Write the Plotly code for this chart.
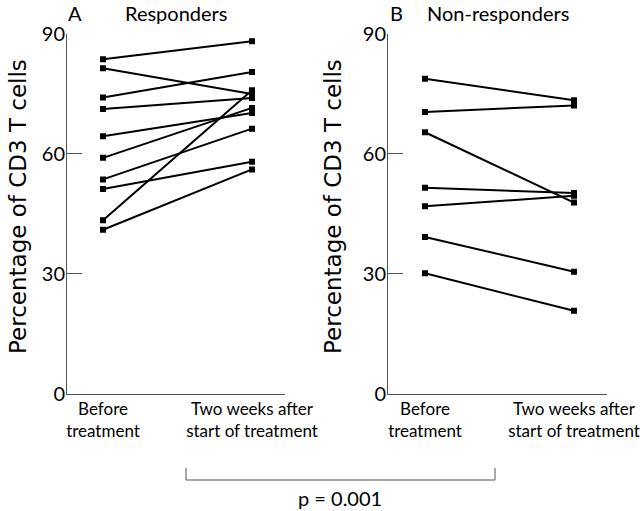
import plotly.graph_objects as go

W, H = 640, 511
FONT = "Lato, 'Open Sans', sans-serif"

x_labels = ["Before<br>treatment", "Two weeks after<br>start of treatment"]
x_pos = [0, 1]

# Responders (panel A): before, after
resp_before = [83.7, 81.4, 74.1, 71.2, 64.4, 59.0, 53.6, 51.2, 43.4, 41.0]
resp_after = [88.2, 75.0, 80.5, 74.0, 70.2, 71.5, 66.3, 58.0, 75.9, 56.1]

# Non-responders (panel B): before, after
non_before = [78.8, 70.5, 65.4, 51.5, 46.9, 39.2, 30.1]
non_after = [73.4, 72.1, 47.8, 50.2, 49.5, 30.5, 20.7]

y_ticks = [0, 30, 60, 90]

fig = go.Figure()

def px(v):
    return v / W

def py(v):
    return 1 - v / H

for b, a in zip(resp_before, resp_after):
    fig.add_trace(go.Scatter(x=x_pos, y=[b, a], mode="lines+markers",
                             line=dict(color="black", width=2),
                             marker=dict(symbol="square", size=6, color="black"),
                             xaxis="x", yaxis="y", showlegend=False, hoverinfo="skip"))
for b, a in zip(non_before, non_after):
    fig.add_trace(go.Scatter(x=x_pos, y=[b, a], mode="lines+markers",
                             line=dict(color="black", width=2),
                             marker=dict(symbol="square", size=6, color="black"),
                             xaxis="x2", yaxis="y2", showlegend=False, hoverinfo="skip"))

ydom = [py(393.5), py(34)]
axis_col = "#555555"
xcommon = dict(tickvals=x_pos, ticktext=x_labels, showgrid=False, zeroline=False,
               showline=True, linecolor=axis_col, linewidth=1, ticks="",
               tickfont=dict(family=FONT, size=17, color="black"),
               ticklabeloverflow="allow",
               automargin=False, fixedrange=True)
ycommon = dict(range=[0, 90], tickvals=y_ticks, showgrid=False, zeroline=False,
               showline=True, linecolor=axis_col, linewidth=1, ticks="inside",
               ticklen=15, tickcolor=axis_col, tickwidth=1, automargin=False,
               ticklabelstandoff=-3,
               tickfont=dict(family=FONT, size=20, color="black"), domain=ydom)

fig.update_layout(
    width=W, height=H, margin=dict(l=0, r=0, t=0, b=0, autoexpand=False),
    paper_bgcolor="white", plot_bgcolor="white",
    xaxis=dict(xcommon, domain=[px(67), px(285)], range=[-36/149, 1 + 33/149], anchor="y"),
    yaxis=dict(ycommon, anchor="x"),
    xaxis2=dict(xcommon, domain=[px(388), px(607)], range=[-37/149, 1 + 33/149], anchor="y2"),
    yaxis2=dict(ycommon, anchor="x2"),
)

def ann(text, x, y, size=20, angle=0, family=FONT):
    fig.add_annotation(text=text, x=px(x), y=py(y), xref="paper", yref="paper",
                       showarrow=False, textangle=angle, xanchor="center", yanchor="middle",
                       font=dict(family=family, size=size, color="black"))

ann("A", 75, 13)
ann("Responders", 176, 13)
ann("B", 396, 13)
ann("Non-responders", 498, 13)
ann("Percentage of CD3 T cells", 18, 207, size=23, angle=-90, family="DejaVu Sans")
ann("Percentage of CD3 T cells", 333, 207, size=23, angle=-90, family="DejaVu Sans")
ann("p = 0.001", 340, 498)

# bracket
fig.add_shape(type="path", xref="paper", yref="paper",
              path=f"M {px(186)},{py(468)} L {px(186)},{py(480)} L {px(495)},{py(480)} L {px(495)},{py(468)}",
              line=dict(color=axis_col, width=1))

fig.write_html("out.html", config={"displayModeBar": False},
               post_script="document.body.style.margin='0';document.body.style.overflow='hidden';")
